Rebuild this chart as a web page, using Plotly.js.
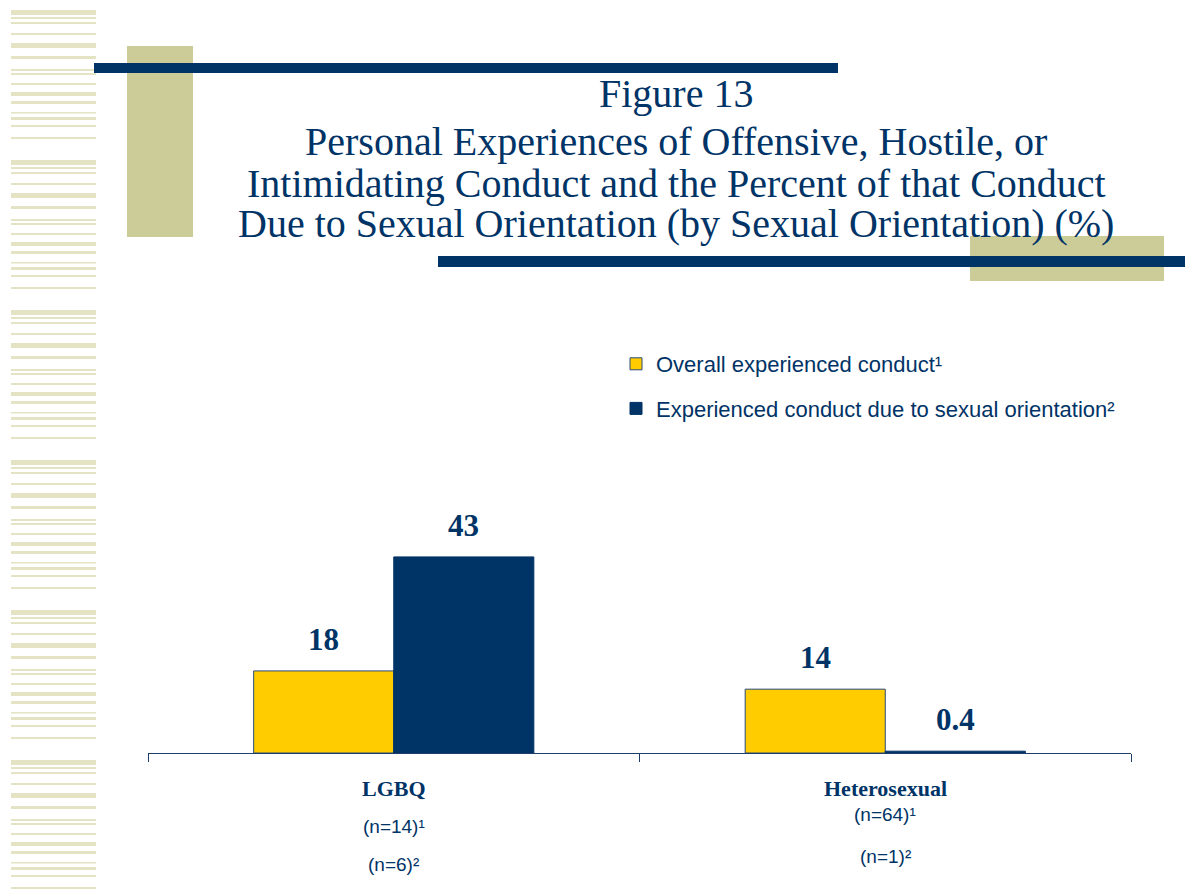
<!DOCTYPE html>
<html>
<head>
<meta charset="utf-8">
<script src="https://cdn.plot.ly/plotly-3.0.1.min.js"></script>
<style>html,body{margin:0;padding:0;background:#fff;}#chart{width:1185px;height:895px;}</style>
</head>
<body>
<div id="chart"></div>
<script>
// ---- data ----
const categories = ["LGBQ", "Heterosexual"];
const overallValues = [18, 14];
const dueToOrientationValues = [43, 0.4];
const overallLabels = ["18", "14"];
const dueLabels = ["43", "0.4"];
const seriesNames = ["Overall experienced conduct\u00b9", "Experienced conduct due to sexual orientation\u00b2"];
const nOverall = ["(n=14)\u00b9", "(n=64)\u00b9"];
const nDue = ["(n=6)\u00b2", "(n=1)\u00b2"];
const titleLines = [
  "Figure 13",
  "Personal Experiences of Offensive, Hostile, or",
  "Intimidating Conduct and the Percent of that Conduct",
  "Due to Sexual Orientation (by Sexual Orientation) (%)"
];

// ---- styles ----
const NAVY = "#003366";
const YELLOW = "#FFCC00";
const KHAKI = "#CCCC99";
const STRIPE = "#E4E3C4";
const PL = 148, PB = 753, PW = 983, PH = 228; // plot area in pixels

const traces = [
  {type: "bar", name: seriesNames[0], x: categories, y: overallValues,
   marker: {color: YELLOW, line: {color: "#2a4a78", width: 1}}, legendgroup: "a", hoverinfo: "skip"},
  {type: "bar", name: seriesNames[1], x: categories, y: dueToOrientationValues,
   marker: {color: NAVY, line: {color: NAVY, width: 1}}, legendgroup: "b", hoverinfo: "skip"}
];

const px2x = p => (p - PL) / PW;
const px2y = p => (PB - p) / PH;

// decorative stripes on the left side
const stripePattern = [[10,5],[17,2],[22,2],[33,2],[43,5],[56,3],[69,2],[73,2],[83,2],[92,4],[101,3],[112,1.5],[117,3],[125,2],[137,2]];
const shapes = [];
for (let base = 0; base < 895; base += 150) {
  stripePattern.forEach(([o, h]) => {
    const y0 = base + o;
    if (y0 > 893) return;
    shapes.push({type: "rect", xref: "paper", yref: "paper", layer: "below",
      x0: px2x(11), x1: px2x(96), y0: px2y(y0), y1: px2y(y0 + h),
      fillcolor: STRIPE, line: {width: 0}});
  });
}
function pxRect(x0, y0, x1, y1, color) {
  shapes.push({type: "rect", xref: "paper", yref: "paper", layer: "below",
    x0: px2x(x0), x1: px2x(x1), y0: px2y(y0), y1: px2y(y1),
    fillcolor: color, line: {width: 0}});
}
pxRect(127, 46, 193, 237, KHAKI);
pxRect(94, 63, 838, 73, NAVY);
pxRect(970, 236, 1164, 281, KHAKI);
pxRect(438, 256, 1185, 267, NAVY);

const annotations = [];
// title lines
const titleCenters = [93, 141, 183, 224];
titleLines.forEach((t, i) => {
  annotations.push({xref: "paper", yref: "paper", x: px2x(676), y: px2y(titleCenters[i]),
    xanchor: "center", yanchor: "middle", text: t, showarrow: false,
    font: {family: "Liberation Serif, Times New Roman, serif", size: 40, color: NAVY}});
});

const serifBold = {family: "Liberation Serif, Times New Roman, serif", size: 31, color: NAVY};
categories.forEach((c, i) => {
  annotations.push({x: c, y: overallValues[i], xref: "x", yref: "y", text: "<b>" + overallLabels[i] + "</b>",
    showarrow: false, xshift: -70, yanchor: "bottom", yshift: 12, font: serifBold});
  annotations.push({x: c, y: dueToOrientationValues[i], xref: "x", yref: "y", text: "<b>" + dueLabels[i] + "</b>",
    showarrow: false, xshift: 70, yanchor: "bottom", yshift: 12, font: serifBold});
});
const labelOffsets = [[-35, -73, -111], [-35, -61, -103]];
categories.forEach((c, i) => {
  const offs = labelOffsets[i];
  annotations.push({x: c, y: 0, xref: "x", yref: "paper", text: "<b>" + c + "</b>", showarrow: false,
    yanchor: "middle", yshift: offs[0],
    font: {family: "Liberation Serif, Times New Roman, serif", size: 22, color: NAVY}});
  annotations.push({x: c, y: 0, xref: "x", yref: "paper", text: nOverall[i], showarrow: false,
    yanchor: "middle", yshift: offs[1],
    font: {family: "Liberation Sans, Arial, sans-serif", size: 19, color: NAVY}});
  annotations.push({x: c, y: 0, xref: "x", yref: "paper", text: nDue[i], showarrow: false,
    yanchor: "middle", yshift: offs[2],
    font: {family: "Liberation Sans, Arial, sans-serif", size: 19, color: NAVY}});
});

const layout = {
  width: 1185, height: 895,
  paper_bgcolor: "#ffffff", plot_bgcolor: "rgba(0,0,0,0)",
  margin: {l: PL, r: 1185 - PL - PW, t: PB - PH, b: 895 - PB, pad: 0},
  barmode: "group", bargap: 0.43, bargroupgap: 0,
  xaxis: {
    type: "category", showticklabels: false, showgrid: false, zeroline: false,
    showline: true, linecolor: "#1f3d6b", linewidth: 1,
    ticks: "outside", tickson: "boundaries", ticklen: 8, tickcolor: "#1f3d6b", tickwidth: 1
  },
  yaxis: {range: [0, 50], visible: false, showgrid: false, zeroline: false},
  showlegend: true,
  legend: {
    x: px2x(616), xanchor: "left", xref: "paper",
    y: px2y(343), yanchor: "top", yref: "paper",
    traceorder: "grouped", tracegroupgap: 13,
    font: {family: "Liberation Sans, Arial, sans-serif", size: 22, color: NAVY},
    bgcolor: "rgba(0,0,0,0)"
  },
  shapes: shapes,
  annotations: annotations
};

Plotly.newPlot("chart", traces, layout, {displayModeBar: false, staticPlot: true});
</script>
</body>
</html>
